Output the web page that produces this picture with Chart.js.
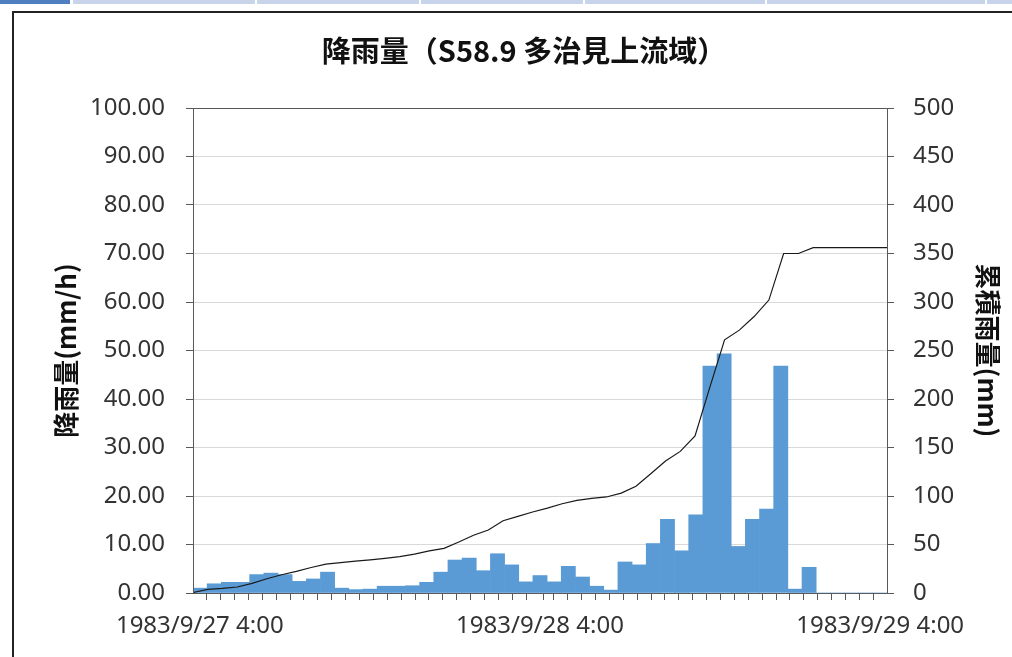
<!DOCTYPE html>
<html>
<head>
<meta charset="utf-8">
<script src="https://cdn.jsdelivr.net/npm/chart.js@4.4.1/dist/chart.umd.min.js"></script>
<style>
  html, body { margin: 0; padding: 0; background: #fff; overflow: hidden; }
  #wrap { position: relative; width: 1012px; height: 657px; }
  #chart { position: absolute; left: 0; top: 0; }
  .tab { position: absolute; top: 0; height: 4px; background: #c8d4e9; }
  #frame { position: absolute; left: 12px; top: 11px; width: 1100px; height: 700px;
           border-left: 2px solid #222; border-top: 2px solid #222; pointer-events: none; }
</style>
</head>
<body>
<div id="wrap">
  <canvas id="chart" width="1012" height="657"></canvas>
  <div class="tab" style="left:0;width:70px;background:#4f7fc0"></div>
  <div class="tab" style="left:73px;width:182px"></div>
  <div class="tab" style="left:257px;width:162px"></div>
  <div class="tab" style="left:421px;width:162px"></div>
  <div class="tab" style="left:585px;width:180px"></div>
  <div class="tab" style="left:767px;width:218px"></div>
  <div class="tab" style="left:987px;width:25px"></div>
  <div id="frame"></div>
</div>
<script>
// --- データ (1983/9/27 4:00 〜 9/29 4:00, 時間雨量と累積雨量) ---
const chartTitle = '降雨量（S58.9 多治見上流域）';
const axisLabels = ['1983/9/27 4:00', '1983/9/28 4:00', '1983/9/29 4:00'];
const axisLabelPos = [0, 24.5, 49];

// 時間雨量 (mm/h) 49本
const rainHourly = [
  1.0, 1.9, 2.2, 2.2, 3.8, 4.1, 3.8, 2.4, 2.9, 4.3,
  1.0, 0.7, 0.8, 1.4, 1.4, 1.5, 2.2, 4.3, 6.8, 7.2,
  4.6, 8.1, 5.8, 2.3, 3.6, 2.3, 5.5, 3.3, 1.4, 0.6,
  6.4, 5.8, 10.2, 15.2, 8.7, 16.1, 46.8, 49.3, 9.6, 15.2,
  17.3, 46.8, 0.8, 5.3, 0, 0, 0, 0, 0
];

// 累積雨量 (mm) 48点
const rainCumulative = [
  0.5, 3.8, 4.8, 6.2, 10, 14.7, 18.8, 22.3, 26.3, 29.8,
  31.3, 32.8, 34.1, 35.7, 37.5, 40, 43.5, 46, 52.5, 59.5,
  65, 74.5, 79, 83.5, 87.5, 92, 95.5, 97.5, 99, 103,
  110, 123, 136, 146, 162, 212, 261, 271, 285, 302,
  350, 350, 356, 356, 356, 356, 356, 356
];

// カテゴリ (時刻)
const hourCats = [];
for (let i = 0; i < rainHourly.length; i++) hourCats.push('h' + i);
const lineCats = [];
for (let i = 0; i < rainCumulative.length; i++) lineCats.push('c' + i);

const TXT = '#333';
const AXIS = '#595959';

// プロットエリアの枠とタイトル
const plotFrame = {
  id: 'plotFrame',
  afterDatasetsDraw(chart) {
    const a = chart.chartArea, c = chart.ctx;
    c.save();
    c.strokeStyle = AXIS;
    c.lineWidth = 1;
    c.strokeRect(Math.round(a.left) + 0.5, Math.round(a.top) + 0.5,
                 Math.round(a.right - a.left), Math.round(a.bottom - a.top));
    c.fillStyle = '#111';
    c.font = 'bold 29px "Noto Sans CJK JP"';
    c.textAlign = 'center';
    c.textBaseline = 'middle';
    c.fillText(chartTitle, 524, 51);
    c.restore();
  }
};

new Chart(document.getElementById('chart'), {
  type: 'bar',
  data: {
    datasets: [
      {
        type: 'line', label: '累積雨量', data: rainCumulative,
        xAxisID: 'x2', yAxisID: 'y2', order: 0,
        borderColor: '#1a1a1a', borderWidth: 1.2, pointRadius: 0, tension: 0, fill: false
      },
      {
        type: 'bar', label: '降雨量', data: rainHourly,
        xAxisID: 'x', yAxisID: 'y', order: 1,
        backgroundColor: '#5b9bd5', borderWidth: 0,
        barPercentage: 1.0, categoryPercentage: 1.0, grouped: false
      }
    ]
  },
  options: {
    responsive: false,
    animation: false,
    layout: { padding: { left: 0, right: 0, top: 108, bottom: 0 } },
    datasets: { bar: { barPercentage: 1.0, categoryPercentage: 1.0 } },
    plugins: {
      legend: { display: false },
      tooltip: { enabled: false },
      title: { display: false }
    },
    scales: {
      x: { type: 'category', labels: hourCats, offset: true, display: false },
      x2: { type: 'category', labels: lineCats, offset: false, display: false },
      xt: {
        type: 'linear', position: 'bottom', min: 0, max: 49,
        afterBuildTicks(scale) {
          const t = [];
          for (let i = 0; i <= 49; i++) t.push({ value: i });
          t.splice(25, 0, { value: 24.5 });
          scale.ticks = t;
        },
        afterFit(scale) { scale.height = 64; },
        border: { display: false },
        grid: {
          drawOnChartArea: false, drawTicks: true, tickLength: 7,
          tickColor: (ctx) => (ctx.tick && ctx.tick.value % 1 === 0) ? AXIS : 'rgba(0,0,0,0)'
        },
        ticks: {
          autoSkip: false, maxRotation: 0, padding: 12, color: TXT,
          font: { family: 'Noto Sans', size: 24 },
          callback: (v) => {
            const k = axisLabelPos.indexOf(v);
            return k >= 0 ? axisLabels[k] : '';
          }
        }
      },
      y: {
        position: 'left', min: 0, max: 100,
        afterFit(scale) { scale.width = 193; },
        border: { display: false },
        grid: { color: '#d9d9d9', tickColor: AXIS, tickLength: 7 },
        ticks: {
          stepSize: 10, padding: 21, color: TXT,
          font: { family: 'Noto Sans', size: 24 },
          callback: (v) => v.toFixed(2)
        },
        title: {
          display: true, text: '降雨量(mm/h)', color: '#111',
          font: { family: 'Noto Sans CJK JP', size: 26, weight: 'bold' },
          padding: { top: 51, bottom: 0 }
        }
      },
      y2: {
        position: 'right', min: 0, max: 500,
        afterFit(scale) { scale.width = 125; },
        border: { display: false },
        grid: { drawOnChartArea: false, tickColor: AXIS, tickLength: 7 },
        ticks: {
          stepSize: 50, padding: 19, color: TXT,
          font: { family: 'Noto Sans', size: 24 }
        },
        title: {
          display: true, text: '累積雨量(mm)', color: '#111',
          font: { family: 'Noto Sans CJK JP', size: 26, weight: 'bold' },
          padding: { top: 9, bottom: 0 }
        }
      }
    }
  },
  plugins: [plotFrame]
});
</script>
</body>
</html>
